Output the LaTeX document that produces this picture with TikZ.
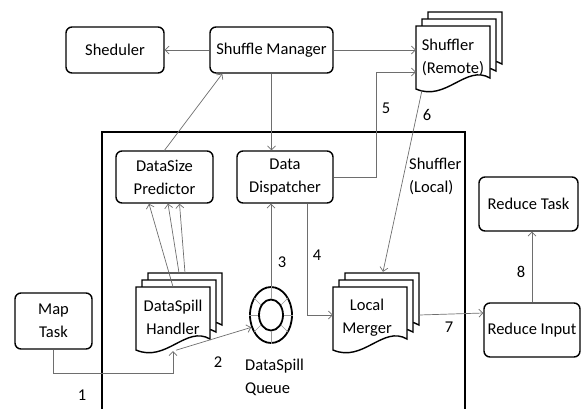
\documentclass[tikz,border=0pt]{standalone}
\usepackage{fontspec}
\setmainfont{Carlito}
\usetikzlibrary{arrows.meta,shapes.geometric,calc,positioning}

\definecolor{linkgray}{RGB}{110,110,110}

\tikzset{
  block/.style={draw, line width=1.4pt, rounded corners=6pt, align=center, inner sep=2pt},
  link/.style={draw=linkgray, line width=0.7pt, -{Straight Barb[length=4pt,width=8pt]}},
  spoke/.style={draw=linkgray!70, line width=0.6pt},
  doctext/.style={minimum width=74pt, minimum height=64pt, inner sep=0pt},
  lbl/.style={inner sep=0pt}
}

% one page of a stacked document, top left corner at #1,#2
\newcommand{\docpage}[2]{%
  \draw[line width=1.4pt, fill=white] (#1,#2) -- ({#1+74},#2) -- ({#1+74},{#2+52})
    .. controls ({#1+50},{#2+38}) and ({#1+30},{#2+76}) .. (#1,{#2+63}) -- cycle;}
\newcommand{\docstack}[2]{%
  \docpage{#1+12}{#2-14}\docpage{#1+6}{#2-7}\docpage{#1}{#2}}

\begin{document}
\begin{tikzpicture}[x=1pt, y=-1pt, font=\fontsize{16.5}{23}\selectfont]
    \useasboundingbox (0,0) rectangle (581,408);

    % task tracker frame
    \draw[line width=2pt] (102,412) -- (102,132) -- (465,132) -- (465,412);

    \node[block, minimum width=98pt, minimum height=46pt] (sched) at (115,50) {Sheduler};
    \node[block, minimum width=123pt, minimum height=46pt] (mgr) at (271.5,50) {Shuffle Manager};
    \node[block, minimum width=97pt, minimum height=52pt] (predictor) at (164.5,177) {DataSize\\Predictor};
    \node[block, minimum width=96pt, minimum height=52pt] (dispatcher) at (285,177) {Data\\Dispatcher};
    \node[block, minimum width=99pt, minimum height=54pt] (reducetask) at (528.5,204) {Reduce Task};
    \node[block, minimum width=96pt, minimum height=54pt] (reduceinput) at (532,330) {Reduce Input};
    \node[block, minimum width=77pt, minimum height=56pt] (maptask) at (53.5,321) {Map\\Task};

    \docstack{416}{26}
    \node[doctext, align=left] (shuffler) at (453,57) {Shuffler\\(Remote)};
    \docstack{136}{287}
    \node[doctext, align=center] (handler) at (173,317) {DataSpill\\Handler};
    \docstack{333}{287}
    \node[doctext, align=center] (merger) at (367,318) {Local\\Merger};

    % spill queue
    \node[draw, ellipse, line width=1.8pt, minimum width=42pt, minimum height=56pt, inner sep=0pt] (queue) at (271,315) {};
    \node[draw, ellipse, line width=1.8pt, minimum width=24pt, minimum height=31pt, inner sep=0pt] (queuein) at (queue) {};
    \foreach \a in {0,45,...,315}
      \draw[spoke] (queuein.\a) -- (queue.\a);
    \node[lbl, align=left, anchor=west] (qlabel) at (245,377) {DataSpill\\Queue};
    \node[lbl, align=left, anchor=west] (locallbl) at (409,176) {Shuffler\\(Local)};

    \coordinate (bend5) at (376,72);
    \coordinate (low1) at (173,373);

    \draw[link] (mgr) -- (sched);
    \draw[link] (mgr.east) -- (mgr.east -| shuffler.west);
    \draw[link] (predictor.north) -- ([xshift=13pt]mgr.south west);
    \draw[link] (mgr.south) -- (mgr.south |- dispatcher.north);
    \draw[link] (dispatcher.east) -| (bend5) -- (bend5 -| shuffler.west);
    \draw[link] ([xshift=-31pt,yshift=-1pt]shuffler.south) -- ([xshift=16pt,yshift=14pt]merger.north);
    \draw[link] ([yshift=-2pt]handler.north) -- ([xshift=-15.5pt]predictor.south);
    \draw[link] ([xshift=6pt,yshift=12pt]handler.north) -- ([xshift=3.5pt]predictor.south);
    \draw[link] ([xshift=12pt,yshift=12pt]handler.north) -- ([xshift=15pt]predictor.south);
    \draw[link] (maptask.south) |- (low1) -- ([yshift=-2pt]handler.south);
    \draw[link] ([xshift=3pt,yshift=-1pt]handler.south) -- (queue.212);
    \draw[link] (queue.north) -- (queue.north |- dispatcher.south);
    \draw[link] ([xshift=22pt]dispatcher.south) |- ([xshift=3pt,yshift=3pt]merger.west);
    \draw[link] ([xshift=15pt,yshift=3pt]merger.east) -- ([yshift=17pt]reduceinput.west);
    \draw[link] (reduceinput.north) -- (reduceinput.north |- reducetask.south);

    \node[lbl] (n1) at (82,395) {1};
    \node[lbl] (n2) at (218,362) {2};
    \node[lbl] (n3) at (282,262) {3};
    \node[lbl] (n4) at (317,255) {4};
    \node[lbl] (n5) at (386,108) {5};
    \node[lbl] (n6) at (427,115) {6};
    \node[lbl] (n7) at (449,327) {7};
    \node[lbl] (n8) at (521,272) {8};
\end{tikzpicture}
\end{document}
